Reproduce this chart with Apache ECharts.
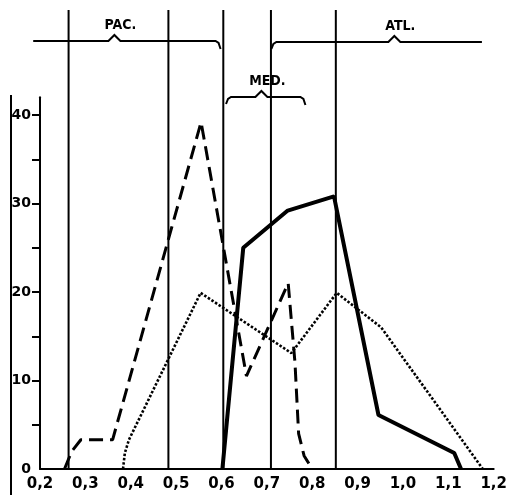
<!DOCTYPE html>
<html>
<head>
<meta charset="utf-8">
<script src="https://cdn.jsdelivr.net/npm/echarts@6/dist/echarts.min.js"></script>
<style>
  html, body { margin: 0; background: #fff; }
  #chart { width: 510px; height: 495px; }
</style>
</head>
<body>
<div id="chart"></div>
<script>
// axis values
const xMin = 0.2
const xMax = 1.2
const yMax = 42
const yTickValues = [5, 10, 15, 20, 25, 30, 35, 40]
const yLabelValues = [0, 10, 20, 30, 40]

// dashed curve
const dashedX = [0.254, 0.27, 0.29, 0.36, 0.555, 0.655, 0.747, 0.762, 0.77, 0.782, 0.8]
const dashedY = [0, 2, 3.3, 3.3, 39.2, 10.5, 21, 12, 4, 1.5, 0]

// solid curve
const solidX = [0.602, 0.648, 0.746, 0.848, 0.946, 1.113, 1.128]
const solidY = [0, 25, 29.2, 30.8, 6.1, 1.8, 0]

// dotted curve
const dottedX = [0.383, 0.387, 0.396, 0.554, 0.754, 0.854, 0.952, 1.176]
const dottedY = [0, 1.8, 3.3, 19.9, 13.1, 19.9, 16, 0]

// region boundaries and brackets
const regionBounds = [0.263, 0.483, 0.604, 0.709, 0.852]
const bracketNames = ['PAC.', 'MED.', 'ATL.']
const bracketFrom = [0.185, 0.61, 0.71]
const bracketTo = [0.598, 0.785, 1.174]
const bracketNotch = [0.364, 0.688, 0.981]

function zip(xs, ys) {
  return xs.map((x, i) => [x, ys[i]])
}

const chart = echarts.init(document.getElementById('chart'))
const labelFont = { fontFamily: 'DejaVu Sans', fontWeight: 'bold', color: '#000' }

chart.setOption({
  animation: false,
  backgroundColor: '#fff',
  grid: {
    left: 40,
    right: 13,
    top: 469 - yMax * 8.85,
    bottom: 26
  },
  xAxis: {
    type: 'value',
    min: xMin,
    max: xMax,
    interval: 0.1,
    splitLine: { show: false },
    axisTick: { show: false },
    axisLine: { lineStyle: { color: '#000', width: 2 } },
    axisLabel: Object.assign({
      fontSize: 15,
      margin: 8,
      formatter: v => v.toFixed(1).replace('.', ',')
    }, labelFont)
  },
  yAxis: {
    type: 'value',
    min: 0,
    max: yMax,
    splitLine: { show: false },
    axisLine: { show: true, lineStyle: { color: '#000', width: 2 } },
    axisTick: {
      show: true,
      length: 8,
      customValues: yTickValues,
      lineStyle: { color: '#000', width: 2 }
    },
    axisLabel: Object.assign({
      fontSize: 14,
      margin: 9,
      customValues: yLabelValues
    }, labelFont)
  },
  series: [
    {
      type: 'line',
      data: zip(dashedX, dashedY),
      symbol: 'none',
      lineStyle: { color: '#000', width: 3, type: [14, 7] }
    },
    {
      type: 'line',
      data: zip(solidX, solidY),
      symbol: 'none',
      lineStyle: { color: '#000', width: 4 }
    },
    {
      type: 'line',
      data: zip(dottedX, dottedY),
      symbol: 'none',
      lineStyle: { color: '#000', width: 2.6, type: [2.5, 1.8] }
    }
  ]
})

// region lines, brackets and the left bar
const px = v => chart.convertToPixel({ xAxisIndex: 0 }, v)
const baseY = chart.convertToPixel({ yAxisIndex: 0 }, 0)
const graphics = []

regionBounds.forEach(b => {
  graphics.push({
    type: 'line',
    shape: { x1: px(b), y1: 10, x2: px(b), y2: baseY },
    style: { stroke: '#000', lineWidth: 2 }
  })
})

const bracketY = [41, 97, 42]
bracketNames.forEach((name, i) => {
  const y = bracketY[i]
  const a = px(bracketFrom[i])
  const b = px(bracketTo[i])
  const n = px(bracketNotch[i])
  const pts = []
  if (i === 0) {
    pts.push([a, y])
  } else {
    pts.push([a, y + 7], [a + 2, y + 2], [a + 5, y])
  }
  pts.push([n - 6, y], [n, y - 6], [n + 6, y])
  if (i === 2) {
    pts.push([b, y])
  } else {
    pts.push([b - 5, y], [b - 2, y + 2], [b, y + 8])
  }
  graphics.push({
    type: 'polyline',
    shape: { points: pts },
    style: { stroke: '#000', lineWidth: 2, fill: null }
  })
  graphics.push({
    type: 'text',
    x: n + 6,
    y: y - 16,
    style: {
      text: name,
      fill: '#000',
      font: 'bold 14px "DejaVu Sans Condensed"',
      textAlign: 'center',
      textVerticalAlign: 'middle'
    }
  })
})

graphics.push({
  type: 'line',
  shape: { x1: 11, y1: 95, x2: 11, y2: 495 },
  style: { stroke: '#000', lineWidth: 2 }
})

chart.setOption({ graphic: graphics })
</script>
</body>
</html>
